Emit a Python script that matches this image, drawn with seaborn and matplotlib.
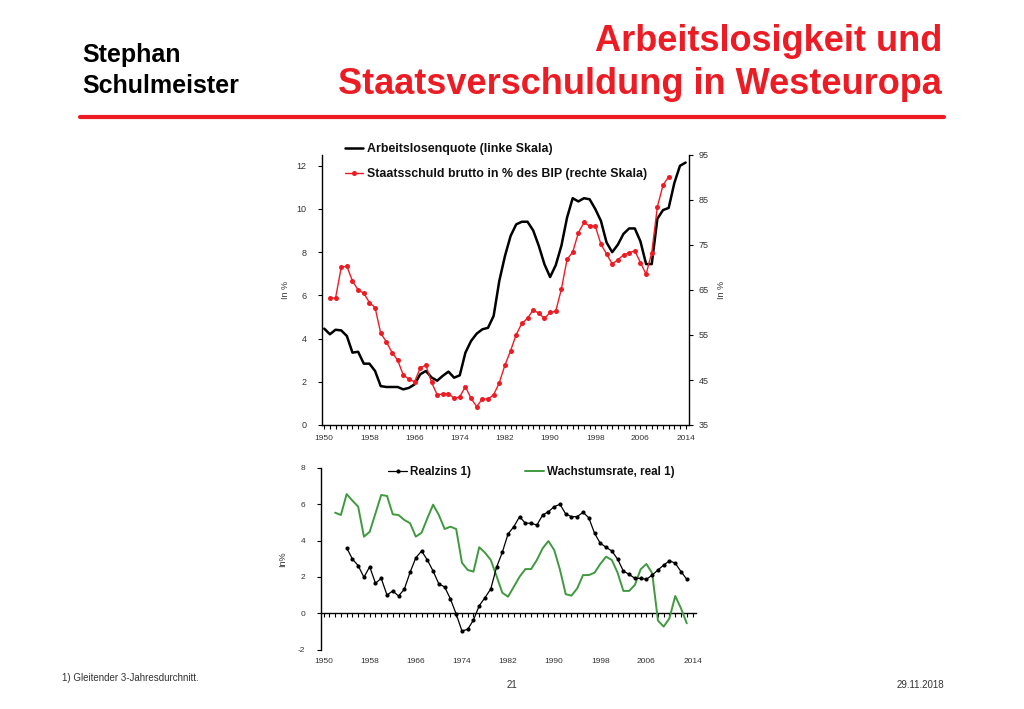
import matplotlib
matplotlib.use("Agg")
import matplotlib.pyplot as plt
import seaborn as sns
from matplotlib import font_manager as fm
from matplotlib.lines import Line2D

# ---------------- data ----------------
years_unemp = list(range(1950, 2015))
unemployment = [4.46, 4.20, 4.41, 4.38, 4.12, 3.35, 3.39, 2.84, 2.84, 2.50,
                1.80, 1.76, 1.76, 1.76, 1.65, 1.72, 1.88, 2.35, 2.50, 2.20,
                2.05, 2.28, 2.47, 2.19, 2.30, 3.35, 3.89, 4.23, 4.43, 4.50,
                5.05, 6.67, 7.82, 8.75, 9.29, 9.41, 9.41, 9.01, 8.29, 7.44,
                6.85, 7.40, 8.30, 9.60, 10.50, 10.35, 10.50, 10.45, 10.00, 9.45,
                8.45, 8.00, 8.35, 8.85, 9.10, 9.10, 8.50, 7.45, 7.45, 9.55,
                9.95, 10.05, 11.20, 12.00, 12.15]

years_debt = list(range(1951, 2012))
debt = [63.3, 63.2, 70.0, 70.3, 67.0, 65.0, 64.3, 62.2, 61.1,
        55.4, 53.5, 51.1, 49.4, 46.1, 45.2, 44.6, 47.7, 48.3, 44.5,
        41.7, 41.9, 42.0, 40.9, 41.3, 43.5, 40.9, 39.1, 40.8, 40.8,
        41.7, 44.4, 48.3, 51.5, 55.1, 57.6, 58.7, 60.6, 59.8, 58.7,
        60.0, 60.3, 65.2, 71.8, 73.4, 77.7, 80.0, 79.2, 79.2, 75.2,
        73.0, 70.8, 71.7, 72.8, 73.3, 73.7, 71.1, 68.5, 73.3, 83.5,
        88.3, 90.2]

years_realzins = list(range(1954, 2014))
realzins = [3.60, 2.98, 2.62, 1.98, 2.56, 1.65,
            1.92, 1.00, 1.23, 0.95, 1.32, 2.25, 3.05, 3.42, 2.93, 2.32,
            1.61, 1.45, 0.79, -0.04, -0.97, -0.88, -0.37, 0.42, 0.86, 1.34,
            2.53, 3.35, 4.36, 4.76, 5.31, 4.95, 4.95, 4.85, 5.40, 5.58,
            5.86, 5.99, 5.46, 5.31, 5.31, 5.55, 5.25, 4.40, 3.85, 3.63,
            3.42, 2.98, 2.32, 2.14, 1.92, 1.92, 1.87, 2.10, 2.38, 2.65,
            2.89, 2.75, 2.29, 1.87]

years_growth = list(range(1952, 2014))
growth = [5.53, 5.40, 6.55, 6.19, 5.86, 4.21, 4.48, 5.49,
          6.50, 6.45, 5.44, 5.40, 5.13, 4.95, 4.21, 4.43, 5.22, 5.97,
          5.40, 4.63, 4.76, 4.63, 2.78, 2.38, 2.29, 3.63, 3.33, 2.93,
          2.05, 1.13, 0.91, 1.46, 2.01, 2.43, 2.43, 2.93, 3.57, 3.97,
          3.48, 2.40, 1.05, 0.97, 1.37, 2.10, 2.10, 2.23, 2.71, 3.11,
          2.93, 2.23, 1.23, 1.23, 1.56, 2.42, 2.71, 2.20, -0.40, -0.73,
          -0.27, 0.95, 0.27, -0.55]

year_ticks = list(range(1950, 2015, 8))
left_ticks = list(range(0, 13, 2))
right_ticks = list(range(35, 96, 10))
bottom_yticks = list(range(-2, 9, 2))

label_unemp = "Arbeitslosenquote (linke Skala)"
label_debt = "Staatsschuld brutto in % des BIP (rechte Skala)"
label_realzins = "Realzins 1)"
label_growth = "Wachstumsrate, real 1)"

# ---------------- style ----------------
sns.set_theme(style="white")
installed = {f.name for f in fm.fontManager.ttflist}
plt.rcParams["font.family"] = ["Liberation Sans", "DejaVu Sans"]
plt.rcParams["axes.unicode_minus"] = False
if "Liberation Sans Narrow" in installed:
    narrow, narrow_size = ["Liberation Sans Narrow", "DejaVu Sans"], 10.5
else:
    narrow, narrow_size = ["Liberation Sans", "DejaVu Sans"], 8.9

RED = "#ed1c24"
GREEN = "#3f9a3f"
TICKC = "#333333"

fig = plt.figure(figsize=(10.24, 7.09), dpi=100)
W, H = 1024, 709

# ---------------- top chart ----------------
ax = fig.add_axes([322 / W, 1 - 425 / H, 367 / W, 270 / H])
ax2 = ax.twinx()
sns.lineplot(x=years_unemp, y=unemployment, ax=ax, color="black", linewidth=1.8, legend=False)
sns.lineplot(x=years_debt, y=debt, ax=ax2, color=RED, linewidth=1.0, marker="o",
             markersize=3.6, markeredgewidth=0, legend=False)
ax.set_xlim(1949.6, 2014.6)
ax.set_ylim(0, 12.5)
ax2.set_ylim(35, 95)
ax.set_xticks(year_ticks)
ax.set_xticks(list(range(1950, 2015)), minor=True)
ax.set_yticks(left_ticks)
ax2.set_yticks(right_ticks)
for a in (ax, ax2):
    a.spines["top"].set_visible(False)
    for s in a.spines.values():
        s.set_color("black")
        s.set_linewidth(1.0)
ax.spines["right"].set_visible(False)
ax2.spines["left"].set_visible(False)
ax2.spines["bottom"].set_visible(False)
ax.tick_params(axis="x", which="both", bottom=True, direction="out", length=3, width=0.8,
               color="black", labelsize=6, labelcolor=TICKC, pad=4)
ax.tick_params(axis="y", left=True, direction="out", length=3, width=0.8, color="black",
               labelsize=6.5, labelcolor=TICKC, pad=8)
ax2.tick_params(axis="y", right=True, direction="out", length=3, width=0.8, color="black",
                labelsize=6.5, labelcolor=TICKC, pad=4)
ax.set_ylabel("In %", fontsize=6.5, color=TICKC, labelpad=5)
ax2.set_ylabel("In %", fontsize=6.5, color=TICKC, labelpad=6, rotation=90)
ax.set_xlabel("")
ax.grid(False)
ax2.grid(False)

handles = [ax.lines[0], ax2.lines[0]]
leg = ax.legend(handles, [label_unemp, label_debt], loc="upper left",
                bbox_to_anchor=(0.062, 1.045), bbox_transform=ax.transAxes,
                frameon=False, handlelength=1.5, handletextpad=0.3, labelspacing=1.05,
                borderpad=0, borderaxespad=0,
                prop={"family": narrow, "weight": "bold", "size": narrow_size})
for t in leg.get_texts():
    t.set_color("#111111")

# ---------------- bottom chart ----------------
bx = fig.add_axes([320.7 / W, 1 - 649.7 / H, 375.3 / W, 182 / H])
sns.lineplot(x=years_growth, y=growth, ax=bx, color=GREEN, linewidth=1.4, legend=False)
sns.lineplot(x=years_realzins, y=realzins, ax=bx, color="black", linewidth=0.9, marker="o",
             markersize=3.0, markeredgewidth=0, legend=False)
bx.set_xlim(1949.5, 2014.6)
bx.set_ylim(-2, 8)
bx.set_yticks(bottom_yticks)
bx.set_xticks(year_ticks)
for side in ("top", "right", "bottom"):
    bx.spines[side].set_visible(False)
bx.spines["left"].set_color("black")
bx.spines["left"].set_linewidth(1.0)
bx.tick_params(axis="x", bottom=False, length=0, labelsize=6, labelcolor=TICKC, pad=6)
bx.tick_params(axis="y", left=True, direction="out", length=3, width=0.8, color="black",
               labelsize=6, labelcolor=TICKC, pad=8)
bx.set_ylabel("In%", fontsize=6.5, color=TICKC, labelpad=8)
bx.set_xlabel("")
bx.grid(False)

zero_axis = bx.secondary_xaxis(0.2)
zero_axis.set_xticks(list(range(1950, 2015)))
zero_axis.tick_params(axis="x", direction="out", length=3, width=0.8, color="black",
                      labelbottom=False, labeltop=False)
zero_axis.spines["bottom"].set_color("black")
zero_axis.spines["bottom"].set_linewidth(1.0)

bleg = bx.legend([bx.lines[1], bx.lines[0]], [label_realzins, label_growth],
                 loc="center left", bbox_to_anchor=(0.18, 0.975), bbox_transform=bx.transAxes,
                 ncol=2, frameon=False, handlelength=1.6, handletextpad=0.3,
                 columnspacing=4.6, borderpad=0, borderaxespad=0,
                 prop={"weight": "bold", "size": 8.4})
for t in bleg.get_texts():
    t.set_color("#111111")

# ---------------- header / footer ----------------
fig.text(82 / W, 1 - 62 / H, "Stephan", fontsize=18, fontweight="bold", color="black", va="baseline")
fig.text(82 / W, 1 - 93 / H, "Schulmeister", fontsize=18, fontweight="bold", color="black", va="baseline")
fig.text(942 / W, 1 - 51 / H, "Arbeitslosigkeit und", fontsize=26, fontweight="bold",
         color=RED, ha="right", va="baseline")
fig.text(942 / W, 1 - 94 / H, "Staatsverschuldung in Westeuropa", fontsize=26, fontweight="bold",
         color=RED, ha="right", va="baseline")
fig.add_artist(Line2D([80 / W, 944 / W], [1 - 117 / H, 1 - 117 / H], color=RED, linewidth=3,
                      transform=fig.transFigure))
fig.text(62 / W, 1 - 678 / H, "1) Gleitender 3-Jahresdurchnitt.", fontsize=7, color="#333333", va="center")
fig.text(512 / W, 1 - 685 / H, "21", fontsize=7, color="#333333", ha="center", va="center")
fig.text(944 / W, 1 - 685 / H, "29.11.2018", fontsize=7, color="#333333", ha="right", va="center")

fig.savefig("out.png", dpi=100)
